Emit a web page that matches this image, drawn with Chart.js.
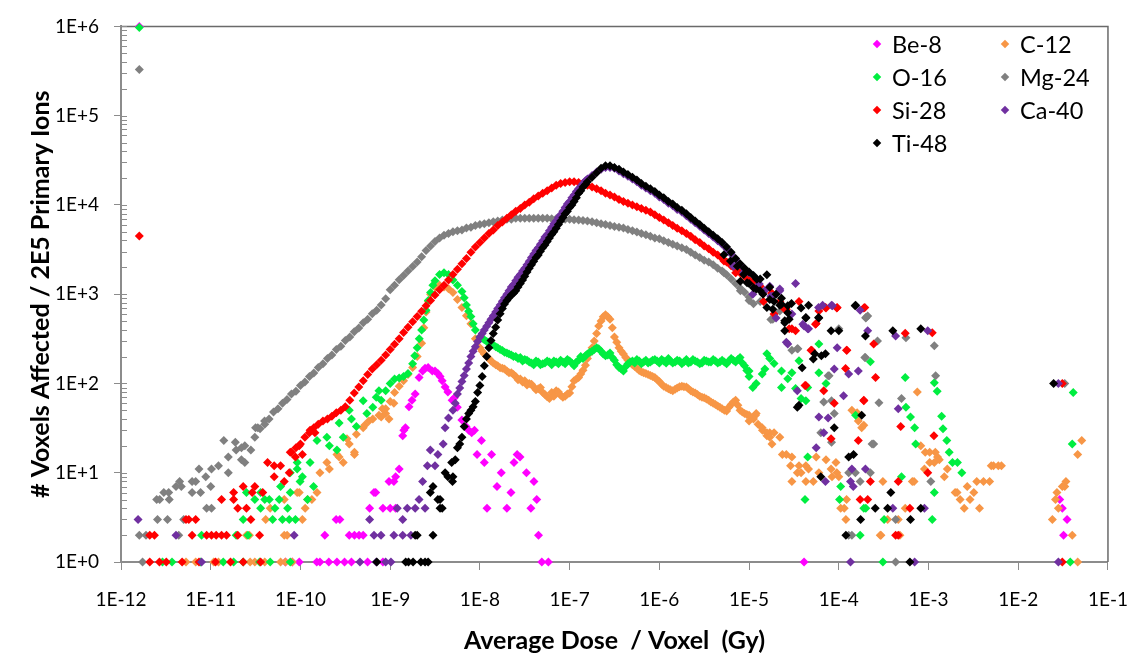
<!DOCTYPE html>
<html>
<head>
<meta charset="utf-8">
<script src="https://cdn.jsdelivr.net/npm/chart.js@4.4.0/dist/chart.umd.min.js"></script>
<style>
  body { margin: 0; background: #fff; }
  #wrap { position: relative; width: 1146px; height: 656px; }
  #legend { position: absolute; left: 870px; top: 27px; display: grid;
            grid-template-columns: 128px 120px; grid-auto-rows: 33px;
            font-family: Lato, sans-serif; font-size: 23.5px; color: #000; }
  #legend .item { display: flex; align-items: center; white-space: nowrap; }
  #legend .mk { width: 6px; height: 6px; transform: rotate(45deg); margin: 0 12px 0 4px; }
</style>
</head>
<body>
<div id="wrap">
  <canvas id="doseChart" width="1146" height="656"></canvas>
  <div id="legend"></div>
</div>
<script>
// x = average dose per voxel (Gy), y = voxels affected per 2E5 primary ions
const be8 = [
  [1.6e-12,1000000],
  [6.8e-11,1],[8.1e-11,1],[9.7e-11,1],[1.52e-10,1],[1.65e-10,1],[2.07e-10,1],[2.55e-10,1],[3.1e-10,1],[3.7e-10,1],[5.6e-10,1],[8.3e-10,1],
  [1.87e-10,2],[3.5e-10,2],[4.0e-10,2],[4.5e-10,2],[5.0e-10,2],
  [2.5e-10,3],[2.75e-10,3],
  [5.9e-10,4],[8.3e-10,4],[1.0e-9,4],[1.15e-9,4],[6.6e-10,6],[6.9e-10,6],[9.7e-10,8],[1.1e-9,8],[1.15e-9,9],[1.26e-9,11],
  [1.38e-9,26],[1.42e-9,30],[1.48e-9,32],[1.62e-9,55],[1.75e-9,65],[1.9e-9,76],[2.1e-9,117],[2.3e-9,138],[2.45e-9,148],[2.65e-9,151],
  [2.95e-9,138],[3.16e-9,138],[3.4e-9,129],[3.6e-9,120],[3.8e-9,107],[4.1e-9,91],[4.4e-9,80],[4.9e-9,65],[5.2e-9,69],[5.6e-9,54],
  [6.3e-9,39],[7.0e-9,33],[7.5e-9,30],[8.1e-9,28],[8.7e-9,30],[9.3e-9,16],[1.04e-8,23],[1.12e-8,13],[1.2e-8,4],[1.35e-8,16],
  [1.55e-8,7],[1.73e-8,10],[2.0e-8,4],[2.22e-8,6],[2.4e-8,13],[2.6e-8,16],[2.8e-8,15],[3.3e-8,10],[3.7e-8,4],[4.0e-8,8],
  [4.3e-8,5],[4.5e-8,2],[4.9e-8,1],[5.8e-8,1],
  [4.1e-5,1],[2.9e-2,5],[3.1e-2,4],[3.2e-2,2],[3.5e-2,3]
];

const c12 = [
  [5.3e-12,1],[6.8e-12,1],[1.08e-11,1],[1.22e-11,1],[2.75e-11,1],[3.1e-11,1],[4.0e-11,1],[6.0e-11,1],[6.8e-11,1],[8.1e-11,1],
  [2.5e-11,2],[2.7e-11,2],[6.6e-11,2],[7.1e-11,2],[4.1e-11,3],[1.05e-10,3],[4.6e-11,4],[1.13e-10,4],
  [6.6e-11,5],[1.2e-10,5],[1.34e-10,5],[9.2e-11,6],[9.7e-11,6],[1.53e-10,6],
  [1.65e-10,10],[2.1e-10,11],[1.97e-10,13],[3.0e-10,13],[2.7e-10,15],[2.55e-10,16],[4.0e-10,16],[4.0e-10,17],[3.5e-10,21],[3.3e-10,24],
  [4.2e-10,27],[5.0e-10,32],[5.2e-10,34],[5.8e-10,38],[6.4e-10,40],[7.5e-10,44],[8.9e-10,46],[9.7e-10,40],[8.2e-10,52],[1.1e-9,60],
  [7.94e-10,42],[8.91e-10,52],[1e-9,63],[1.12e-9,79],[1.26e-9,93],[1.41e-9,107],[1.58e-9,126],[1.78e-9,151],[2e-9,200],[2.24e-9,282],
  [2.37e-9,420],[2.51e-9,631],[2.66e-9,830],[2.82e-9,1000],[3.16e-9,1202],[3.55e-9,1259],[3.98e-9,1202],[4.47e-9,1148],[5.01e-9,1047],
  [5.62e-9,871],[6.31e-9,708],[7.08e-9,575],[7.94e-9,468],[8.91e-9,316],
  [1e-8,251],[1.12e-8,214],[1.26e-8,191],[1.41e-8,170],[1.58e-8,158],[1.78e-8,148],[2e-8,138],[2.24e-8,132],[2.51e-8,120],[2.82e-8,112],
  [3.16e-8,107],[3.55e-8,100],[3.98e-8,91],[4.47e-8,87],[5.01e-8,79],[5.62e-8,71],[6.31e-8,79],[7.08e-8,83],[7.94e-8,74],[8.91e-8,72],
  [1e-7,78],[1.12e-7,107],[1.26e-7,117],[1.41e-7,141],[1.58e-7,191],[1.78e-7,251],[2e-7,363],[2.24e-7,501],[2.51e-7,589],[2.82e-7,525],
  [3.16e-7,331],[3.55e-7,251],[3.98e-7,214],[4.47e-7,182],[5.01e-7,162],[5.62e-7,148],[6.31e-7,135],[7.08e-7,129],[7.94e-7,123],[8.91e-7,117],
  [1e-6,105],[1.12e-6,93],[1.26e-6,87],[1.41e-6,83],[1.58e-6,89],[1.78e-6,93],[2e-6,91],[2.24e-6,83],[2.51e-6,78],[2.82e-6,72],
  [3.16e-6,69],[3.55e-6,65],[3.98e-6,60],[4.47e-6,56],[5.01e-6,52],[5.62e-6,49],[6.31e-6,58],[7.08e-6,65],[7.94e-6,50],[8.91e-6,46],
  [1.06e-8,230],[1.19e-8,200],[1.33e-8,178],[1.5e-8,162],[1.68e-8,150],[1.88e-8,145],[2.11e-8,132],[2.37e-8,126],[2.66e-8,110],[2.99e-8,104],
  [3.35e-8,96],[3.76e-8,98],[4.22e-8,85],[4.73e-8,90],[5.31e-8,75],[5.96e-8,68],[6.68e-8,72],[7.5e-8,80],[8.41e-8,70],[9.44e-8,76],
  [1.06e-7,92],[1.19e-7,112],[1.33e-7,128],[1.5e-7,160],[1.68e-7,220],[1.88e-7,300],[2.11e-7,440],[2.37e-7,560],[2.66e-7,560],[2.99e-7,420],
  [3.35e-7,290],[3.76e-7,230],[4.22e-7,195],[4.73e-7,172],[5.31e-7,155],[5.96e-7,140],[6.68e-7,132],[7.5e-7,126],[8.41e-7,120],[9.44e-7,110],
  [1.06e-6,98],[1.19e-6,90],[1.33e-6,85],[1.5e-6,86],[1.68e-6,92],[1.88e-6,92],[2.11e-6,87],[2.37e-6,80],[2.66e-6,75],[2.99e-6,70],
  [3.35e-6,67],[3.76e-6,62],[4.22e-6,58],[4.73e-6,54],[5.31e-6,50],[5.96e-6,54],[6.68e-6,62],[7.5e-6,57],[8.41e-6,48],[9.44e-6,45],
  [1e-5,44],[1.12e-5,40],[1.26e-5,35],[1.41e-5,30],[1.58e-5,26],
  [1.0e-5,38],[1.18e-5,44],[1.2e-5,46],[1.4e-5,32],[1.58e-5,28],[1.7e-5,28],[1.9e-5,28],[2.2e-5,25],[1.8e-5,21],[1.7e-5,25],
  [2.35e-5,16],[2.6e-5,16],[3.0e-5,15],[2.9e-5,12],[3.6e-5,12],[4.3e-5,12],[4.6e-5,11],[5.6e-5,15],[7.2e-5,14],[9.3e-5,13],
  [3.45e-5,10],[3.8e-5,10],[3.0e-5,8],[4.3e-5,8],[5.2e-5,8],[6.0e-5,10],[8.2e-5,11],[9.5e-5,10],[8.4e-5,9],[1.0e-4,9],
  [1.05e-4,4],[1.15e-4,4],[1.2e-4,3],[1.22e-4,5],[1.4e-4,50],[1.6e-4,47],[1.65e-4,38],[1.8e-4,32],[1.9e-4,34],
  [2.9e-4,2],[2.95e-4,2],[3.1e-4,8],[3.5e-4,3],[4.6e-4,3],[4.8e-4,2],[5.5e-4,4],[6.6e-4,8],[6.9e-4,8],
  [7.5e-4,80],[8.2e-4,20],[9.0e-4,11],[9.2e-4,17],[1.03e-3,17],[1.03e-3,13],[1.16e-3,13],[1.19e-3,17],[1.26e-3,15],[1.32e-3,14],
  [1.5e-3,9],[1.62e-3,11],[1.98e-3,6],[2.08e-3,6],[2.25e-3,5],[2.5e-3,4],[2.7e-3,7],[2.9e-3,5],[3.2e-3,6],[3.45e-3,8],
  [3.7e-3,4],[4.1e-3,8],[4.8e-3,8],[5.0e-3,12],[5.3e-3,12],[6.0e-3,12],[6.5e-3,12],
  [2.4e-2,3],[2.6e-2,5],[2.7e-2,6],[2.8e-2,4],[3.1e-2,7],[3.3e-2,7],[3.4e-2,8],[4.0e-2,2],[4.6e-2,1],[4.6e-2,16],[5.1e-2,23]
];

const o16 = [
  [1.6e-12,970000],
  [2.9e-12,1],[3.7e-12,1],[7.7e-12,1],[1.38e-11,1],[1.8e-11,1],[2.3e-11,1],[3.5e-11,1],[4.6e-11,1],[7.7e-11,1],
  [7.9e-12,2],[1.92e-11,2],[2.6e-11,2],
  [2.3e-11,3],[4.9e-11,3],[6.3e-11,3],[7.5e-11,3],[8.8e-11,3],[3.6e-11,4],[5.2e-11,4],[7.2e-11,4],
  [3.1e-11,5],[4.0e-11,5],[4.5e-11,5],[5.8e-11,5],[1.2e-10,5],[2.5e-11,6],[3.6e-11,6],[7.7e-11,6],[6.0e-11,7],[1.4e-10,7],
  [9.9e-11,8],[1.05e-10,9],[7.7e-11,10],[9.2e-11,11],[9.2e-11,13],[1.28e-10,13],[1.53e-10,23],[1.97e-10,25],[2.1e-10,20],[2.55e-10,18],
  [2.7e-10,36],[3.0e-10,25],[3.5e-10,50],[3.7e-10,40],[4.2e-10,33],[5.0e-10,64],[5.5e-10,46],[6.4e-10,54],[7.0e-10,70],[7.5e-10,83],
  [7.94e-10,65],[8.91e-10,83],[1e-9,100],[1.12e-9,112],[1.26e-9,115],[1.41e-9,120],[1.58e-9,129],[1.78e-9,166],[1.88e-9,205],[2e-9,251],
  [2.11e-9,316],[2.24e-9,398],[2.37e-9,513],[2.51e-9,661],[2.66e-9,851],[2.82e-9,1047],[2.99e-9,1259],[3.16e-9,1413],[3.55e-9,1660],[3.98e-9,1738],
  [4.47e-9,1660],[5.01e-9,1445],[5.62e-9,1259],[6.31e-9,1072],[6.68e-9,912],[7.08e-9,759],[7.5e-9,646],[7.94e-9,562],[8.41e-9,468],[8.91e-9,398],
  [1e-8,331],[1.12e-8,309],[1.26e-8,288],[1.41e-8,269],[1.58e-8,251],[1.78e-8,234],[2e-8,219],[2.24e-8,209],[2.51e-8,200],[2.82e-8,195],
  [3.16e-8,186],[3.55e-8,174],[3.98e-8,162],[4.47e-8,174],[5.01e-8,166],[5.62e-8,178],[6.31e-8,162],[7.08e-8,174],[7.94e-8,182],[8.91e-8,166],
  [1e-7,178],[1.12e-7,158],[1.26e-7,182],[1.41e-7,191],[1.58e-7,214],[1.78e-7,229],[2e-7,251],[2.24e-7,229],[2.51e-7,204],[2.82e-7,219],
  [3.16e-7,182],[3.55e-7,151],[3.98e-7,138],[4.47e-7,166],[5.01e-7,178],[5.62e-7,186],[6.31e-7,166],[7.08e-7,182],[7.94e-7,174],[8.91e-7,186],
  [1e-6,170],[1.12e-6,178],[1.26e-6,191],[1.41e-6,170],[1.58e-6,182],[1.78e-6,166],[2e-6,186],[2.24e-6,174],[2.51e-6,178],[2.82e-6,166],
  [3.16e-6,182],[3.55e-6,174],[3.98e-6,186],[4.47e-6,170],[5.01e-6,182],[5.62e-6,166],[6.31e-6,191],[7.08e-6,174],[7.94e-6,195],[8.91e-6,158],
  [1.06e-8,320],[1.19e-8,295],[1.33e-8,275],[1.5e-8,258],[1.68e-8,240],[1.88e-8,224],[2.11e-8,214],[2.37e-8,200],[2.66e-8,191],[2.99e-8,178],
  [3.35e-8,182],[3.76e-8,170],[4.22e-8,178],[4.73e-8,162],[5.31e-8,170],[5.96e-8,174],[6.68e-8,178],[7.5e-8,166],[8.41e-8,174],[9.44e-8,186],
  [1.06e-7,170],[1.19e-7,174],[1.33e-7,200],[1.5e-7,204],[1.68e-7,224],[1.88e-7,240],[2.11e-7,245],[2.37e-7,214],[2.66e-7,209],[2.99e-7,195],
  [3.35e-7,162],[3.76e-7,145],[4.22e-7,155],[4.73e-7,174],[5.31e-7,170],[5.96e-7,178],[6.68e-7,174],[7.5e-7,170],[8.41e-7,182],[9.44e-7,178],
  [1.06e-6,186],[1.19e-6,170],[1.33e-6,178],[1.5e-6,174],[1.68e-6,178],[1.88e-6,174],[2.11e-6,170],[2.37e-6,186],[2.66e-6,174],[2.99e-6,170],
  [3.35e-6,178],[3.76e-6,174],[4.22e-6,178],[4.73e-6,174],[5.31e-6,174],[5.96e-6,178],[6.68e-6,182],[7.5e-6,186],[8.41e-6,170],[9.44e-6,140],
  [1e-5,120],[1.0e-5,138],[1.1e-5,90],[1.2e-5,100],[1.4e-5,128],[1.5e-5,145],[1.58e-5,215],[1.7e-5,190],[1.9e-5,167],[2.3e-5,138],
  [2.3e-5,90],[2.7e-5,113],[3.0e-5,132],[3.3e-5,88],[3.6e-5,180],[3.8e-5,68],[4.3e-5,64],[4.5e-5,90],[4.5e-5,15],[4.2e-5,5],
  [6.0e-5,132],[6.0e-5,277],[7.2e-5,100],[1.02e-4,5],[1.05e-4,7],[1.54e-4,44],[1.73e-4,2],[1.9e-4,4],[2.0e-4,4],[2.25e-4,175],
  [3.1e-4,1],[3.2e-4,3],[5.0e-4,9],[5.5e-4,117],[5.6e-4,54],[6.3e-4,42],[7.0e-4,32],[7.2e-4,21],
  [1.1e-3,3],[1.16e-3,6],[1.16e-3,102],[1.25e-3,82],[1.4e-3,43],[1.45e-3,31],[1.6e-3,23],[1.7e-3,17],[1.85e-3,13],[2.1e-3,13],[2.35e-3,10],
  [3.8e-2,1],[4.0e-2,21],[4.1e-2,79]
];

const mg24 = [
  [1.6e-12,330000],
  [1.74e-12,1],[1.6e-12,2],[1.9e-12,2],[4.4e-12,2],[2.55e-12,3],[3.3e-12,3],[5.0e-12,3],
  [2.5e-12,5],[2.7e-12,5],[3.45e-12,5],[3.0e-12,6],[3.4e-12,6],[6.2e-12,6],[7.7e-12,6],[4.1e-12,7],[4.7e-12,7],[4.5e-12,8],[6.2e-12,8],
  [6.8e-12,8],[8.8e-12,9],[9.0e-12,4],[1.02e-11,4],[1.0e-11,7],[7.4e-12,11],[1.02e-11,11],[1.22e-11,12],[1.57e-11,10],[1.57e-11,15],
  [1.4e-11,23],[1.88e-11,22],[1.92e-11,18],[2.2e-11,14],[2.2e-11,19],[2.4e-11,20],[2.4e-11,13],[2.8e-11,18],[3.1e-11,25],[3.35e-11,32],[4.0e-11,35],
  [3.16e-11,32],[3.55e-11,31],[3.98e-11,38],[4.47e-11,40],[5.01e-11,48],[5.62e-11,52],[6.31e-11,60],[7.08e-11,66],[7.94e-11,76],[8.91e-11,82],
  [1e-10,95],[1.12e-10,104],[1.26e-10,120],[1.41e-10,131],[1.58e-10,151],[1.78e-10,166],[2e-10,190],[2.24e-10,209],[2.51e-10,240],[2.82e-10,262],
  [3.16e-10,302],[3.55e-10,331],[3.98e-10,380],[4.47e-10,417],[5.01e-10,479],[5.62e-10,525],[6.31e-10,603],[7.08e-10,660],[7.94e-10,759],[8.91e-10,890],
  [1e-9,1120],[1.12e-9,1260],[1.26e-9,1450],[1.41e-9,1620],[1.58e-9,1820],[1.78e-9,2040],[2e-9,2290],[2.24e-9,2630],[2.51e-9,3090],[2.82e-9,3470],
  [3.16e-9,3890],[3.55e-9,4270],[3.98e-9,4570],[4.47e-9,4790],[5.01e-9,5010],[5.62e-9,5130],[6.31e-9,5250],[7.08e-9,5500],[7.94e-9,5620],[8.91e-9,5890],
  [1e-8,6030],[1.12e-8,6170],[1.26e-8,6310],[1.41e-8,6460],[1.58e-8,6610],[1.78e-8,6760],[2e-8,6920],[2.24e-8,6920],[2.51e-8,7080],[2.82e-8,7080],
  [3.16e-8,7080],[3.55e-8,7080],[3.98e-8,7080],[4.47e-8,7080],[5.01e-8,7080],[5.62e-8,7080],[6.31e-8,6990],[7.08e-8,6990],[7.94e-8,6920],[8.91e-8,6920],
  [1e-7,6920],[1.12e-7,6840],[1.26e-7,6760],[1.41e-7,6680],[1.58e-7,6610],[1.78e-7,6460],[2e-7,6310],[2.24e-7,6170],[2.51e-7,6030],[2.82e-7,5890],
  [3.16e-7,5750],[3.55e-7,5620],[3.98e-7,5500],[4.47e-7,5310],[5.01e-7,5130],[5.62e-7,4970],[6.31e-7,4790],[7.08e-7,4630],[7.94e-7,4470],[8.91e-7,4270],
  [1e-6,4170],[1.12e-6,3980],[1.26e-6,3800],[1.41e-6,3630],[1.58e-6,3470],[1.78e-6,3310],[2e-6,3160],[2.24e-6,2950],[2.51e-6,2750],[2.82e-6,2570],
  [3.16e-6,2400],[3.55e-6,2290],[3.98e-6,2140],[4.47e-6,1950],[5.01e-6,1820],[5.62e-6,1650],[6.31e-6,1480],[7.08e-6,1320],[7.94e-6,1170],[8.91e-6,1050],
  [1e-5,930],[1.12e-5,780],[1.33e-5,830],[1.75e-5,520],[2.2e-5,650],[3.0e-5,235],[3.45e-5,245],[6.3e-5,28],[6.8e-5,62],[7.8e-5,122],
  [5.25e-6,1740],[8.0e-6,1090],[1.0e-5,850],[1.84e-5,525],[3.5e-5,245],[7.6e-5,122],[2.0e-4,550],[1.95e-4,195],
  [8.3e-5,64],[8.3e-5,22],[8.9e-5,46],[1.0e-4,410],[1.29e-4,10],[1.29e-4,2],[1.4e-4,2],[1.53e-4,10],[1.73e-4,8],[1.98e-4,195],
  [2.0e-4,540],[2.1e-4,570],[2.25e-4,10],[2.35e-4,21],[2.45e-4,21],[2.7e-4,300],[2.8e-4,61],[4.3e-4,1],[4.3e-4,3],[5.0e-4,68],
  [5.6e-4,325],[1.06e-3,8],[1.16e-3,265],[1.2e-3,122],[3.3e-2,100]
];

const si28 = [
  [1.6e-12,4500],
  [2.09e-12,1],[2.68e-12,1],[3.2e-12,1],[4.8e-12,1],[7.4e-12,1],[1.13e-11,1],[1.66e-11,1],[2.3e-11,1],[3.6e-11,1],
  [2.09e-12,2],[2.36e-12,2],[6.2e-12,2],[9.0e-12,2],[1.02e-11,2],[1.15e-11,2],[1.32e-11,2],[1.5e-11,2],[2.0e-11,2],[3.5e-11,2],
  [5.3e-12,3],[5.7e-12,3],[6.8e-12,3],[2.8e-11,3],[2.0e-11,4],[2.5e-11,4],[1.32e-11,5],[1.8e-11,5],
  [1.8e-11,6],[2.9e-11,6],[3.8e-11,6],[2.3e-11,7],[3.1e-11,7],[4.3e-11,13],[5.1e-11,12],[6.0e-11,12],[5.1e-11,9],[6.6e-11,8],
  [7.5e-11,10],[7.7e-11,17],[8.8e-11,15],[9.7e-11,20],[1.05e-10,16],[1.28e-10,30],[1.45e-10,28],
  [7.94e-11,17],[8.91e-11,19],[1e-10,21],[1.12e-10,25],[1.26e-10,28],[1.41e-10,32],[1.58e-10,35],[1.78e-10,38],[2e-10,40],[2.24e-10,43],
  [2.51e-10,47],[2.82e-10,50],[3.16e-10,55],[3.55e-10,65],[3.98e-10,78],[4.47e-10,91],[5.01e-10,107],[5.62e-10,126],[6.31e-10,145],[7.08e-10,162],
  [7.94e-10,182],[8.91e-10,209],[1e-9,240],[1.12e-9,275],[1.26e-9,316],[1.41e-9,372],[1.58e-9,427],[1.78e-9,490],[2e-9,562],[2.24e-9,646],
  [2.51e-9,741],[2.82e-9,851],[3.16e-9,977],[3.55e-9,1122],[3.98e-9,1259],[4.47e-9,1445],[5.01e-9,1660],[5.62e-9,1905],[6.31e-9,2188],[7.08e-9,2512],
  [7.94e-9,2951],[8.91e-9,3388],[1e-8,3802],[1.12e-8,4266],[1.26e-8,4786],[1.41e-8,5248],[1.58e-8,5888],[1.78e-8,6457],[2e-8,7079],[2.24e-8,7762],
  [2.51e-8,8511],[2.82e-8,9120],[3.16e-8,10000],[3.55e-8,10720],[3.98e-8,11750],[4.47e-8,12590],[5.01e-8,13490],[5.62e-8,14450],[6.31e-8,15490],[7.08e-8,16600],
  [7.94e-8,17380],[8.91e-8,17780],[1e-7,18200],[1.12e-7,18200],[1.26e-7,17780],[1.41e-7,17380],[1.58e-7,16600],[1.78e-7,15850],[2e-7,15140],[2.24e-7,14450],
  [2.51e-7,13490],[2.82e-7,12880],[3.16e-7,12300],[3.55e-7,11480],[3.98e-7,10960],[4.47e-7,10470],[5.01e-7,10000],[5.62e-7,9550],[6.31e-7,9120],[7.08e-7,8710],
  [7.94e-7,8318],[8.91e-7,7762],[1e-6,7244],[1.12e-6,6761],[1.26e-6,6310],[1.41e-6,5888],[1.58e-6,5495],[1.78e-6,5129],[2e-6,4786],[2.24e-6,4467],
  [2.51e-6,4074],[2.82e-6,3802],[3.16e-6,3467],[3.55e-6,3236],[3.98e-6,2951],[4.47e-6,2754],[5.01e-6,2512],[5.62e-6,2291],[6.31e-6,2089],[7.08e-6,1905],
  [7.94e-6,1738],[8.91e-6,1585],[1e-5,1445],
  [5.25e-6,2350],[7.1e-6,1740],[1.12e-5,1400],[1.45e-5,830],[1.78e-5,1030],[1.9e-5,600],[2.5e-5,680],[2.8e-5,410],[3.3e-5,390],[5.5e-5,460],
  [4.9e-5,235],[7.1e-5,710],[9.6e-5,710],[1.23e-4,235],[1.95e-4,710],[4.3e-5,95],[1.9e-4,64],
  [1.17e-5,1390],[1.33e-5,1230],[1.8e-5,1020],[2.2e-5,830],[2.6e-5,680],[3.0e-5,410],[3.6e-5,830],[4.2e-5,95],[5.0e-5,235],[5.6e-5,470],
  [6.0e-5,650],[6.8e-5,83],[7.2e-5,700],[8.2e-5,24],[8.9e-5,60],[9.5e-5,700],[1.19e-4,147],[1.22e-4,235],[1.65e-4,23],[1.73e-4,5],
  [1.9e-4,700],[1.9e-4,65],[2.1e-4,5],[2.25e-4,8],[2.45e-4,277],[2.57e-4,117],[4.3e-4,2],[4.6e-4,2],[4.6e-4,8],[4.9e-4,33],
  [5.5e-4,365],[6.2e-4,4],[9.8e-4,10],[1.1e-3,370],[1.15e-3,26],[3.1e-2,1],[3.1e-2,100]
];

const ca40 = [
  [1.55e-12,3],[4.1e-12,2],[7.9e-12,1],[8.5e-11,2],
  [4.6e-10,1],[7.0e-10,1],[8.9e-10,1],[1.02e-9,1],[6.6e-10,2],[7.9e-10,2],[1.1e-9,2],[1.38e-9,2],[1.7e-9,2],[5.9e-10,3],[1.38e-9,3],
  [1.2e-9,4],[1.55e-9,4],[1.9e-9,4],[2.45e-9,4],[2.1e-9,5],[2.3e-9,8],[2.6e-9,12],[3.16e-9,12],[3.4e-9,16],[2.8e-9,18],[3.9e-9,21],[4.1e-9,32],[4.47e-9,41],
  [5.01e-9,50],[5.31e-9,60],[5.62e-9,76],[5.96e-9,89],[6.31e-9,105],[6.68e-9,123],[7.08e-9,145],[7.5e-9,170],[7.94e-9,200],[8.41e-9,229],
  [8.91e-9,257],[9.44e-9,295],[1e-8,331],[1.06e-8,363],[1.12e-8,398],[1.19e-8,437],[1.26e-8,479],[1.33e-8,525],[1.41e-8,575],[1.5e-8,631],
  [1.58e-8,692],[1.68e-8,759],[1.78e-8,832],[1.88e-8,912],[2e-8,1000],[2.11e-8,1096],[2.24e-8,1202],[2.37e-8,1288],[2.51e-8,1413],[2.66e-8,1549],
  [2.82e-8,1660],[2.99e-8,1820],[3.16e-8,1950],[3.35e-8,2138],[3.55e-8,2344],[3.76e-8,2570],[3.98e-8,2818],[4.22e-8,3090],[4.47e-8,3311],[4.73e-8,3631],
  [5.01e-8,3981],[5.31e-8,4365],[5.62e-8,4677],[5.96e-8,5129],[6.31e-8,5623],[6.68e-8,6166],[7.08e-8,6607],[7.5e-8,7244],[7.94e-8,7762],[8.41e-8,8511],
  [8.91e-8,9333],[9.44e-8,10230],[1e-7,10960],[1.06e-7,12020],[1.12e-7,12880],[1.19e-7,14130],[1.26e-7,15140],[1.33e-7,16220],[1.41e-7,17380],[1.5e-7,18620],
  [1.58e-7,19500],[1.78e-7,21380],[2e-7,23440],[2.24e-7,25120],[2.51e-7,26300],[2.82e-7,26300],[3.16e-7,25700],[3.55e-7,23990],[3.98e-7,22390],[4.47e-7,20890],
  [5.01e-7,19500],[5.62e-7,18200],[6.31e-7,16600],[7.08e-7,15490],[7.94e-7,14450],[8.91e-7,13490],[1e-6,12300],[1.12e-6,11480],[1.26e-6,10470],[1.41e-6,9772],
  [1.58e-6,8913],[1.78e-6,8318],[2e-6,7586],[2.24e-6,6918],[2.51e-6,6310],[2.82e-6,5754],[3.16e-6,5248],[3.55e-6,4786],[3.98e-6,4365],[4.47e-6,3981],
  [5.01e-6,3631],[5.62e-6,3236],[6.31e-6,2818],[7.08e-6,2455],[7.94e-6,2138],[8.91e-6,1905],[1e-5,1738],
  [8.7e-6,1740],[6.7e-6,2050],[1.7e-5,1230],[2.2e-5,1090],[1.84e-5,950],[3.0e-5,600],[3.98e-5,460],[4.6e-5,410],[5.95e-5,710],[8.5e-5,740],[2.6e-5,290],
  [1.1e-5,1000],[1.3e-5,1300],[1.5e-5,1100],[1.75e-5,950],[2.0e-5,540],[2.2e-5,1140],[2.7e-5,277],[3.3e-5,1320],[3.45e-5,83],[4.1e-5,440],
  [4.5e-5,410],[5.6e-5,19],[6.0e-5,42],[6.6e-5,750],[6.8e-5,28],[7.1e-5,8],[7.6e-5,41],[8.3e-5,750],[8.9e-5,145],[9.6e-5,252],
  [1.13e-4,73],[1.29e-4,128],[1.35e-4,8],[1.35e-4,1],[1.4e-4,11],[1.45e-4,7],[1.65e-4,138],[1.73e-4,660],[1.98e-4,11],[2.1e-4,390],
  [4.0e-4,4],[4.3e-4,340],[4.6e-4,52],[7.0e-4,1],[9.0e-4,4],[9.8e-4,390],[2.8e-2,1],[2.8e-2,100]
];

const ti48 = [
  [7.1e-10,1],[1.49e-9,1],[1.6e-9,1],[1.8e-9,1],[2.2e-9,1],[2.45e-9,1],[2.65e-9,1],[1.9e-9,2],[2.0e-9,2],[3.0e-9,2],
  [3.6e-9,4],[3.8e-9,4],[3.4e-9,5],[3.6e-9,5],[2.8e-9,6],[3.0e-9,7],[4.1e-9,10],[4.4e-9,9],[4.95e-9,8],[4.85e-9,13],
  [5.01e-9,9],[5.31e-9,14],[5.62e-9,19],[5.96e-9,21],[6.31e-9,25],[6.68e-9,33],[7.08e-9,40],[7.5e-9,46],[7.94e-9,50],[8.41e-9,55],
  [8.91e-9,63],[9.44e-9,79],[1e-8,95],[1.06e-8,120],[1.12e-8,158],[1.19e-8,200],[1.26e-8,251],[1.33e-8,302],[1.41e-8,363],[1.5e-8,427],
  [1.58e-8,513],[1.68e-8,603],[1.78e-8,692],[1.88e-8,776],[2e-8,851],[2.11e-8,912],[2.24e-8,977],[2.37e-8,1023],[2.51e-8,1096],[2.66e-8,1202],
  [2.82e-8,1318],[2.99e-8,1445],[3.16e-8,1585],[3.35e-8,1778],[3.55e-8,1950],[3.76e-8,2138],[3.98e-8,2344],[4.22e-8,2570],[4.47e-8,2754],[4.73e-8,3020],
  [5.01e-8,3311],[5.31e-8,3548],[5.62e-8,3890],[5.96e-8,4266],[6.31e-8,4677],[6.68e-8,5012],[7.08e-8,5495],[7.5e-8,6026],[7.94e-8,6607],[8.41e-8,7244],
  [8.91e-8,7943],[9.44e-8,8511],[1e-7,9333],[1.06e-7,10000],[1.12e-7,10960],[1.19e-7,12020],[1.26e-7,13490],[1.33e-7,14450],[1.41e-7,15850],[1.5e-7,16980],
  [1.58e-7,18200],[1.78e-7,20420],[2e-7,22910],[2.24e-7,25700],[2.51e-7,27540],[2.82e-7,27540],[3.16e-7,26300],[3.55e-7,25120],[3.98e-7,23440],[4.47e-7,21880],
  [5.01e-7,20420],[5.62e-7,19050],[6.31e-7,17380],[7.08e-7,16220],[7.94e-7,15140],[8.91e-7,14130],[1e-6,12880],[1.12e-6,12020],[1.26e-6,10960],[1.41e-6,10230],
  [1.58e-6,9333],[1.78e-6,8710],[2e-6,7943],[2.24e-6,7244],[2.51e-6,6607],[2.82e-6,6026],[3.16e-6,5495],[3.55e-6,5012],[3.98e-6,4571],[4.47e-6,4169],
  [5.01e-6,3802],[5.62e-6,3388],[6.31e-6,2951],[7.08e-6,2512],[7.94e-6,2188],[8.91e-6,1950],[1e-5,1778],[1.12e-5,1622],
  [5.25e-6,2760],[6.2e-6,2350],[7.4e-6,2050],[8.7e-6,1660],[8.0e-6,1400],[9.5e-6,1340],[1.12e-5,1180],[1.33e-5,1090],[1.22e-5,1470],[1.7e-5,870],
  [1.84e-5,680],[2.3e-5,770],[2.7e-5,740],[2.8e-5,525],[2.5e-5,480],[4.3e-5,550],[5.95e-5,550],[1.52e-4,740],[5.2e-5,188],[6.4e-5,204],
  [1.0e-5,1320],[1.2e-5,1140],[1.33e-5,1480],[1.43e-5,1000],[1.58e-5,1650],[1.58e-5,710],[1.7e-5,1200],[1.9e-5,830],[2.0e-5,1000],[2.2e-5,750],
  [2.3e-5,900],[2.5e-5,505],[2.5e-5,390],[2.7e-5,620],[2.97e-5,785],[3.45e-5,54],[3.6e-5,57],[3.8e-5,700],[3.9e-5,150],[4.3e-5,540],
  [4.6e-5,750],[5.4e-5,215],[6.0e-5,540],[6.3e-5,9],[7.1e-5,215],[8.2e-5,390],[8.9e-5,32],[1.0e-4,390],[1.2e-4,2],[1.29e-4,15],
  [1.46e-4,16],[1.54e-4,750],[1.75e-4,3],[1.8e-4,44],[1.98e-4,340],[2.55e-4,4],[3.5e-4,4],[3.8e-4,6],[4.0e-4,390],[6.2e-4,1],
  [6.3e-4,3],[8.2e-4,4],[8.2e-4,410],[2.48e-2,100]
];

const seriesNames = ['Be-8', 'C-12', 'O-16', 'Mg-24', 'Si-28', 'Ca-40', 'Ti-48'];
const seriesColors = ['#FF00FF', '#F79646', '#00EE40', '#808080', '#FF0000', '#7030A0', '#000000'];
const seriesData = [be8, c12, o16, mg24, si28, ca40, ti48];

const xTickValues = [1e-12, 1e-11, 1e-10, 1e-9, 1e-8, 1e-7, 1e-6, 1e-5, 1e-4, 1e-3, 1e-2, 1e-1];
const xTickLabels = ['1E-12', '1E-11', '1E-10', '1E-9', '1E-8', '1E-7', '1E-6', '1E-5', '1E-4', '1E-3', '1E-2', '1E-1'];
const yTickValues = [1, 10, 100, 1000, 10000, 100000, 1000000];
const yTickLabels = ['1E+0', '1E+1', '1E+2', '1E+3', '1E+4', '1E+5', '1E+6'];

// frame on top/right and minor ticks on the y axis
const framePlugin = {
    id: 'frame',
    beforeDatasetsDraw(chart) {
        const a = chart.chartArea;
        const ctx = chart.ctx;
        const y = chart.scales.y;
        ctx.save();
        ctx.strokeStyle = '#6a6a6a';
        ctx.lineWidth = 1.5;
        ctx.beginPath();
        ctx.moveTo(a.left, a.top);
        ctx.lineTo(a.right, a.top);
        ctx.lineTo(a.right, a.bottom);
        ctx.stroke();
        ctx.strokeStyle = '#8c8c8c';
        ctx.lineWidth = 1;
        for (let d = 0; d < yTickValues.length; d++) {
            const base = yTickValues[d];
            ctx.beginPath();
            let py = Math.round(y.getPixelForValue(base)) + 0.5;
            ctx.moveTo(a.left, py);
            ctx.lineTo(a.left + 6, py);
            ctx.stroke();
            if (d === yTickValues.length - 1) break;
            for (let m = 2; m <= 9; m++) {
                py = Math.round(y.getPixelForValue(base * m)) + 0.5;
                ctx.beginPath();
                ctx.moveTo(a.left, py);
                ctx.lineTo(a.left + 6, py);
                ctx.stroke();
            }
        }
        ctx.restore();
    }
};

const ctx = document.getElementById('doseChart').getContext('2d');
const doseChart = new Chart(ctx, {
    type: 'scatter',
    data: {
        datasets: seriesNames.map((name, i) => ({
            label: name,
            data: seriesData[i].map(p => ({ x: p[0], y: p[1] })),
            backgroundColor: seriesColors[i],
            borderWidth: 0,
            pointStyle: 'rectRot',
            pointRadius: 4.5,
            clip: false,
            order: seriesNames.length - i
        }))
    },
    options: {
        responsive: false,
        animation: false,
        events: [],
        layout: { padding: { left: 0, right: 23, top: 24, bottom: 0 } },
        plugins: {
            legend: { display: false },
            tooltip: { enabled: false }
        },
        scales: {
            x: {
                type: 'logarithmic',
                min: 1e-12,
                max: 1e-1,
                afterBuildTicks: s => { s.ticks = xTickValues.map(v => ({ value: v })); },
                afterFit: s => { s.height = 94; },
                ticks: {
                    autoSkip: false,
                    maxRotation: 0,
                    padding: 18,
                    color: '#000',
                    font: { family: 'Lato', size: 19 },
                    callback: (v, i) => xTickLabels[i]
                },
                grid: { drawOnChartArea: false, drawTicks: true, tickLength: 8, color: '#8c8c8c' },
                border: { color: '#8c8c8c', width: 2 },
                title: {
                    display: true,
                    text: 'Average Dose  / Voxel  (Gy)',
                    color: '#000',
                    font: { family: 'Lato', size: 25, weight: 'bold' },
                    padding: { top: 4, bottom: 0 }
                }
            },
            y: {
                type: 'logarithmic',
                min: 1,
                max: 1000000,
                afterBuildTicks: s => { s.ticks = yTickValues.map(v => ({ value: v })); },
                afterFit: s => { s.width = 121; },
                ticks: {
                    autoSkip: false,
                    padding: 15,
                    color: '#000',
                    font: { family: 'Lato', size: 19 },
                    callback: (v, i) => yTickLabels[i]
                },
                grid: { drawOnChartArea: false, drawTicks: true, tickLength: 7, color: '#8c8c8c' },
                border: { color: '#8c8c8c', width: 2 },
                title: {
                    display: true,
                    text: '# Voxels Affected / 2E5 Primary Ions',
                    color: '#000',
                    font: { family: 'Lato', size: 25, weight: 'bold' },
                    padding: { top: 26, bottom: 0 }
                }
            }
        }
    },
    plugins: [framePlugin]
});

const legendEl = document.getElementById('legend');
seriesNames.forEach((name, i) => {
    const item = document.createElement('div');
    item.className = 'item';
    item.innerHTML = '<span class="mk" style="background:' + seriesColors[i] + '"></span>' + name;
    legendEl.appendChild(item);
});
</script>
</body>
</html>
